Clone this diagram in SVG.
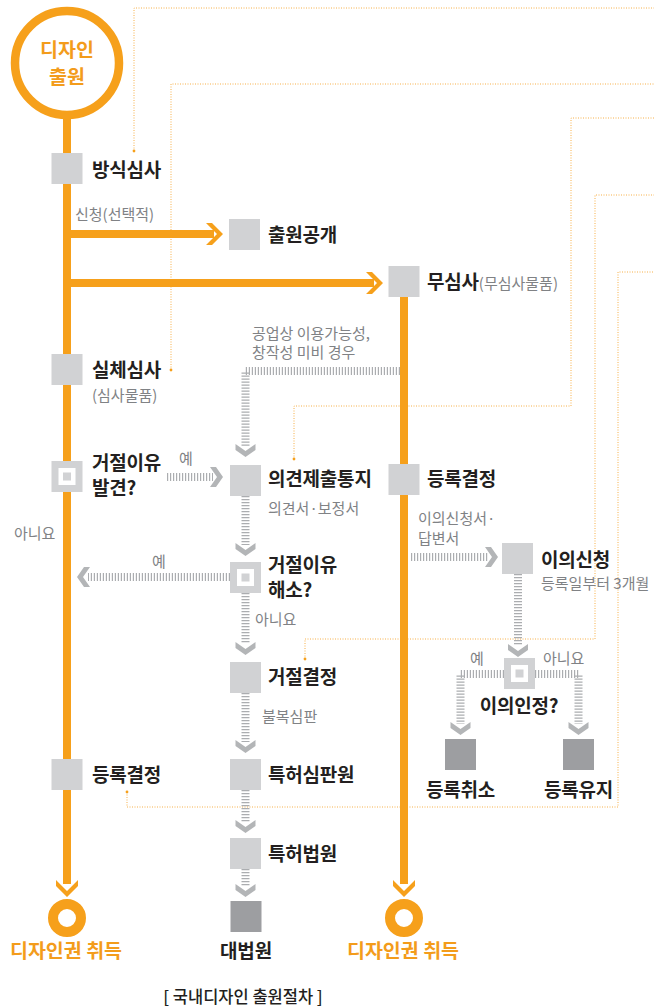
<svg xmlns="http://www.w3.org/2000/svg" xmlns:xlink="http://www.w3.org/1999/xlink" width="654" height="1007" viewBox="0 0 654 1007">
<style>
text{font-family:"Noto Sans CJK KR","Noto Sans",sans-serif}
.b{font-size:19px;font-weight:700;fill:#231f20;letter-spacing:-0.2px}
.g{font-size:15px;font-weight:400;fill:#808285}
.o{font-size:19.5px;font-weight:700;fill:#f39c1b}
.sq{fill:#d1d2d4}
.dk{fill:#9d9ea1}
.ol{fill:none;stroke:#f6a01b;stroke-width:8}
.ht{fill:none;stroke:#abadb0;stroke-width:8;stroke-dasharray:1.2 1.8}
.dt{fill:none;stroke:#f7b04a;stroke-width:1;stroke-dasharray:1 1.5}
.dot{fill:#f6a01b}
.cg{fill:#b3b5b7}
.co{fill:#f6a01b}
</style>
<defs>
<path id="chevO" d="M-17,-11 L-11,-11 L0,0 L-11,11 L-17,11 L-6,0 Z"/>
<path id="chevG" d="M-13,-10 L-7,-10 L0,0 L-7,10 L-13,10 L-6,0 Z"/>
<g id="dec"><rect x="0" y="0" width="31" height="31" fill="#d1d2d4"/><rect x="7" y="7" width="17" height="17" fill="#fff"/><rect x="11.5" y="11.5" width="8" height="8" fill="#d1d2d4"/></g>
</defs>

<g id="connectors">
  <!-- orange dotted feedback lines -->
  <path class="dt" d="M134,151 V8 H654"/>
  <circle class="dot" cx="134" cy="151" r="1.4"/>
  <path class="dt" d="M171,370 V84 H654"/>
  <circle class="dot" cx="171" cy="370" r="1.4"/>
  <path class="dt" d="M294,459 V406 H571 V118 H654"/>
  <circle class="dot" cx="294" cy="459" r="1.4"/>
  <path class="dt" d="M305,659 V639 H595 V195 H654"/>
  <circle class="dot" cx="305" cy="659" r="1.4"/>
  <path class="dt" d="M127,792 V807 H618 V272 H654"/>
  <circle class="dot" cx="127" cy="792" r="1.4"/>

  <!-- orange main lines -->
  <path class="ol" d="M67,118 V884"/>
  <path class="ol" d="M67,234 H214"/>
  <use href="#chevO" class="co" transform="translate(223,234)"/>
  <path class="ol" d="M67,283 H374"/>
  <use href="#chevO" class="co" transform="translate(383,283)"/>
  <path class="ol" d="M404,290 V884"/>
  <use href="#chevO" class="co" transform="translate(67,897) rotate(90)"/>
  <use href="#chevO" class="co" transform="translate(404,897) rotate(90)"/>

  <!-- gray hatched flows -->
  <path class="ht" d="M400,371 H245.5 V446"/>
  <use href="#chevG" class="cg" transform="translate(245.5,457) rotate(90)"/>
  <path class="ht" d="M167,477 H213"/>
  <use href="#chevG" class="cg" transform="translate(223,477)"/>
  <path class="ht" d="M245.5,496 V545"/>
  <use href="#chevG" class="cg" transform="translate(245.5,556) rotate(90)"/>
  <path class="ht" d="M230,577 H88"/>
  <use href="#chevG" class="cg" transform="translate(77,577) rotate(180)"/>
  <path class="ht" d="M245.5,593 V644"/>
  <use href="#chevG" class="cg" transform="translate(245.5,655) rotate(90)"/>
  <path class="ht" d="M245.5,693 V742"/>
  <use href="#chevG" class="cg" transform="translate(245.5,753) rotate(90)"/>
  <path class="ht" d="M245.5,790 V822"/>
  <use href="#chevG" class="cg" transform="translate(245.5,833) rotate(90)"/>
  <path class="ht" d="M245.5,869 V886"/>
  <use href="#chevG" class="cg" transform="translate(245.5,897) rotate(90)"/>
  <path class="ht" d="M411,557 H488"/>
  <use href="#chevG" class="cg" transform="translate(498,557)"/>
  <path class="ht" d="M518,574 V646"/>
  <use href="#chevG" class="cg" transform="translate(518,657) rotate(90)"/>
  <path class="ht" d="M504,674 H460.5 V724"/>
  <use href="#chevG" class="cg" transform="translate(460.5,735) rotate(90)"/>
  <path class="ht" d="M535,674 H578.5 V724"/>
  <use href="#chevG" class="cg" transform="translate(578.5,735) rotate(90)"/>
</g>

<g id="n-start">
  <circle cx="67" cy="63" r="52" fill="#fff" stroke="#f6a01b" stroke-width="8.5"/>
  <text class="o" x="67" y="57" text-anchor="middle">디자인</text>
  <text class="o" x="67" y="84" text-anchor="middle">출원</text>
</g>
<g id="n-formal"><rect class="sq" x="51.5" y="153" width="31" height="31"/><text class="b" x="92" y="177">방식심사</text></g>
<g id="n-request-label"><text class="g" x="75" y="220">신청(선택적)</text></g>
<g id="n-publish"><rect class="sq" x="229" y="219" width="31" height="31"/><text class="b" x="268" y="242">출원공개</text></g>
<g id="n-noexam"><rect class="sq" x="388.5" y="266" width="31" height="31"/><text x="427" y="289"><tspan class="b">무심사</tspan><tspan class="g">(무심사물품)</tspan></text></g>
<g id="n-subst"><rect class="sq" x="51.5" y="354" width="31" height="31"/><text class="b" x="92" y="377">실체심사</text><text class="g" x="92" y="401">(심사물품)</text></g>
<g id="n-lack-label"><text class="g" x="252" y="339">공업상 이용가능성,</text><text class="g" x="252" y="358">창작성 미비 경우</text></g>
<g id="n-reject-found"><use href="#dec" x="51.5" y="461"/><text class="b" x="92" y="470">거절이유</text><text class="b" x="92" y="495">발견?</text><text class="g" x="179" y="464">예</text><text class="g" x="14" y="539">아니요</text></g>
<g id="n-notice"><rect class="sq" x="230" y="465" width="31" height="31"/><text class="b" x="268" y="486">의견제출통지</text><text class="g" x="268" y="514">의견서·보정서</text></g>
<g id="n-reg-right"><rect class="sq" x="388.5" y="464" width="31" height="31"/><text class="b" x="427" y="486">등록결정</text><text class="g" x="418" y="524">이의신청서·</text><text class="g" x="418" y="544">답변서</text></g>
<g id="n-resolved"><use href="#dec" x="230" y="562"/><text class="b" x="268" y="572">거절이유</text><text class="b" x="268" y="597">해소?</text><text class="g" x="152" y="567">예</text><text class="g" x="255" y="625">아니요</text></g>
<g id="n-objection"><rect class="sq" x="502" y="543" width="31" height="31"/><text class="b" x="541" y="567">이의신청</text><text class="g" x="541" y="589">등록일부터 3개월</text></g>
<g id="n-reject"><rect class="sq" x="230" y="662" width="31" height="31"/><text class="b" x="268" y="684">거절결정</text><text class="g" x="262" y="722">불복심판</text></g>
<g id="n-accepted"><use href="#dec" x="504" y="658"/><text class="g" x="470" y="664">예</text><text class="g" x="543" y="664">아니요</text><text class="b" x="519" y="713" text-anchor="middle">이의인정?</text></g>
<g id="n-tribunal"><rect class="sq" x="230" y="759" width="31" height="31"/><text class="b" x="268" y="782">특허심판원</text></g>
<g id="n-reg-left"><rect class="sq" x="51.5" y="759" width="31" height="31"/><text class="b" x="92" y="782">등록결정</text></g>
<g id="n-cancel"><rect class="dk" x="445" y="739" width="31" height="31"/><text class="b" x="460.5" y="797" text-anchor="middle">등록취소</text></g>
<g id="n-maintain"><rect class="dk" x="563" y="739" width="31" height="31"/><text class="b" x="578.5" y="797" text-anchor="middle">등록유지</text></g>
<g id="n-court"><rect class="sq" x="230" y="838" width="31" height="31"/><text class="b" x="268" y="861">특허법원</text></g>
<g id="n-supreme"><rect class="dk" x="230.5" y="901" width="31" height="31"/><text class="b" x="246" y="958" text-anchor="middle">대법원</text></g>
<g id="n-end-left"><circle cx="67" cy="918" r="14" fill="none" stroke="#f6a01b" stroke-width="10"/><text class="o" x="66" y="958" text-anchor="middle">디자인권 취득</text></g>
<g id="n-end-right"><circle cx="404" cy="918" r="14" fill="none" stroke="#f6a01b" stroke-width="10"/><text class="o" x="403" y="958" text-anchor="middle">디자인권 취득</text></g>
<g id="caption"><text x="243" y="1003" text-anchor="middle" font-size="16.5" font-weight="500" fill="#231f20">[ 국내디자인 출원절차 ]</text></g>
</svg>
